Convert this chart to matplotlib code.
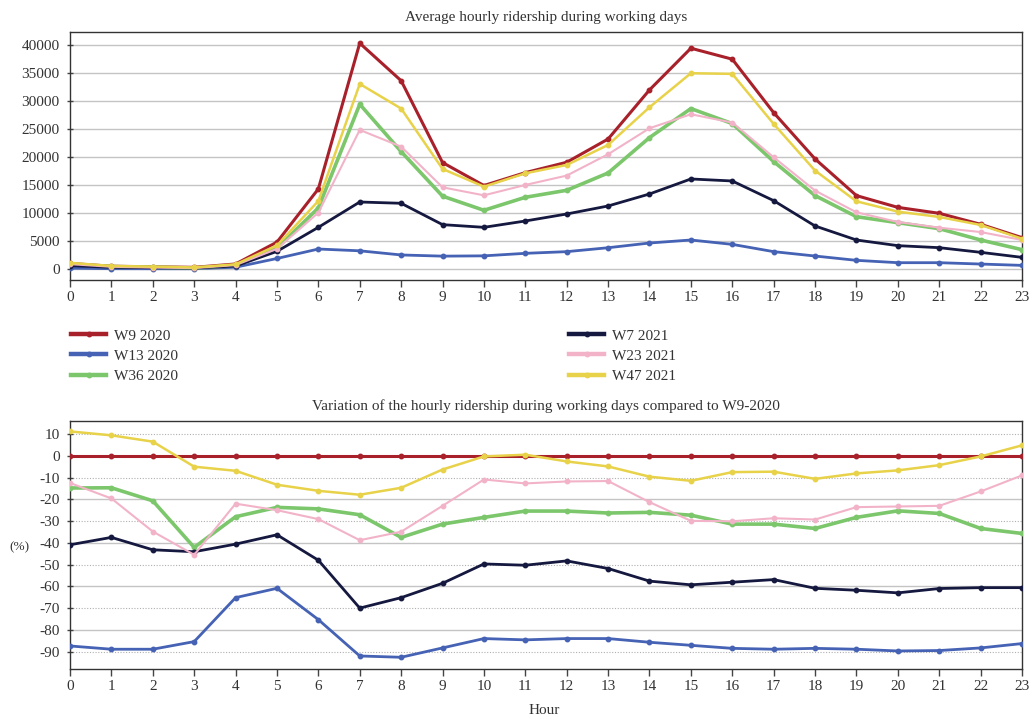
import matplotlib
matplotlib.use("Agg")
import matplotlib.pyplot as plt
from matplotlib.ticker import MultipleLocator, FormatStrFormatter
from matplotlib.lines import Line2D

plt.rcParams['font.family'] = ['Liberation Serif', 'DejaVu Serif']

hours = list(range(24))
series_names = ["W9 2020", "W13 2020", "W36 2020", "W7 2021", "W23 2021", "W47 2021"]

# Average hourly ridership (top chart)
w9_2020 = [1000, 500, 400, 300, 900, 4800, 14300, 40300, 33600, 19000, 14900, 17200,
           19050, 23200, 31960, 39400, 37440, 27900, 19640, 13100, 11000, 9940, 7980, 5600]
w13_2020 = [150, 60, 50, 45, 320, 1880, 3570, 3250, 2510, 2300, 2350, 2800,
            3100, 3800, 4640, 5180, 4400, 3100, 2320, 1550, 1130, 1130, 890, 650]
w36_2020 = [850, 430, 320, 170, 650, 3700, 10900, 29400, 20950, 13000, 10480, 12800,
            14050, 17140, 23450, 28630, 25950, 19170, 13100, 9340, 8270, 7200, 5180, 3450]
w7_2021 = [600, 310, 230, 170, 540, 3150, 7440, 11960, 11730, 7920, 7440, 8570,
           9820, 11250, 13390, 16070, 15710, 12200, 7680, 5180, 4170, 3810, 2980, 2080]
w23_2021 = [870, 400, 260, 165, 700, 3600, 10060, 24820, 21840, 14580, 13150, 15000,
            16670, 20480, 25120, 27620, 26130, 19940, 13990, 10120, 8390, 7380, 6600, 5180]
w47_2021 = [1100, 550, 430, 285, 840, 4200, 12140, 33030, 28630, 17860, 14700, 17080,
            18570, 22140, 28870, 34940, 34820, 25890, 17560, 12080, 10240, 9290, 7860, 5420]

# Variation compared to W9-2020 (%) (bottom chart)
v_w9_2020 = [0] * 24
v_w13_2020 = [-87.4, -88.9, -88.9, -85.4, -65.2, -60.9, -75.3, -92.0, -92.6, -88.3, -84.0, -84.6,
              -84.0, -84.0, -85.7, -87.1, -88.5, -88.9, -88.5, -88.9, -89.7, -89.5, -88.3, -86.3]
v_w36_2020 = [-14.8, -14.7, -20.7, -42.1, -28.0, -23.7, -24.4, -27.1, -37.5, -31.4, -28.3, -25.4,
              -25.4, -26.3, -26.0, -27.3, -31.4, -31.4, -33.4, -28.3, -25.3, -26.5, -33.4, -35.7]
v_w7_2021 = [-40.9, -37.5, -43.2, -44.1, -40.6, -36.3, -48.0, -70.0, -65.2, -58.6, -49.7, -50.3,
             -48.3, -51.8, -57.6, -59.3, -58.1, -56.9, -60.9, -61.8, -63.0, -61.0, -60.6, -60.6]
v_w23_2021 = [-12.5, -19.6, -34.8, -45.5, -22.0, -25.0, -29.1, -38.8, -34.9, -23.0, -10.9, -12.7,
              -11.8, -11.6, -21.3, -29.9, -30.1, -28.7, -29.3, -23.6, -23.3, -23.0, -16.4, -9.0]
v_w47_2021 = [11.2, 9.4, 6.5, -5.0, -6.9, -13.3, -16.1, -17.9, -14.7, -6.3, -0.3, 0.5,
              -2.6, -4.9, -9.6, -11.5, -7.5, -7.3, -10.6, -8.1, -6.7, -4.3, -0.3, 4.8]

top_data = [w9_2020, w13_2020, w36_2020, w7_2021, w23_2021, w47_2021]
bot_data = [v_w9_2020, v_w13_2020, v_w36_2020, v_w7_2021, v_w23_2021, v_w47_2021]

colors = ["#a8202a", "#4562b4", "#7cc66c", "#15183f", "#f2b3c8", "#e8d24a"]
widths = [2.2, 2.0, 2.6, 2.0, 1.5, 1.8]

text_color = "#333333"
grid_color = "#c4c4c4"
fs = 11

fig = plt.figure(figsize=(10.31, 7.2), dpi=100)
ax1 = fig.add_axes([0.0679, 0.6111, 0.9234, 0.3445])
ax2 = fig.add_axes([0.0679, 0.0708, 0.9234, 0.3445])

for d, c, w in zip(top_data, colors, widths):
    ax1.plot(hours, d, color=c, lw=w, marker='o', ms=3.2, zorder=3)
for d, c, w in zip(bot_data, colors, widths):
    ax2.plot(hours, d, color=c, lw=w, marker='o', ms=3.2, zorder=3)

for ax in (ax1, ax2):
    ax.set_xlim(0, 23)
    ax.set_xticks(hours)
    ax.tick_params(axis='x', direction='out', length=5, width=1, colors="#444444",
                   labelcolor=text_color, labelsize=fs, pad=3)
    ax.tick_params(axis='y', which='both', direction='inout', length=5, width=1,
                   colors="#444444", labelcolor=text_color, labelsize=fs, pad=5)
    for s in ax.spines.values():
        s.set_color("#333333")
        s.set_linewidth(1.0)
    ax.set_axisbelow(True)

ax1.set_ylim(-1960, 42300)
ax1.set_yticks(range(0, 40001, 5000))
ax1.yaxis.grid(True, color=grid_color, lw=1.0, ls='-')
ax1.set_title("Average hourly ridership during working days", fontsize=fs,
              color=text_color, pad=8)

ax2.set_ylim(-98, 16)
ax2.yaxis.set_major_locator(MultipleLocator(20))
ax2.yaxis.set_minor_locator(MultipleLocator(10))
ax2.yaxis.set_major_formatter(FormatStrFormatter('%d'))
ax2.yaxis.set_minor_formatter(FormatStrFormatter('%d'))
ax2.yaxis.grid(True, which='major', color=grid_color, lw=1.0, ls='-')
ax2.yaxis.grid(True, which='minor', color="#b0b0b0", lw=0.8, ls=(0, (1, 1.5)))
ax2.set_title("Variation of the hourly ridership during working days compared to W9-2020",
              fontsize=fs, color=text_color, pad=8)

fig.text(19 / 1031, 1 - 547 / 720, "(%)", fontsize=9.5, color=text_color,
         ha='center', va='center')
fig.text(544 / 1031, 1 - 711 / 720, "Hour", fontsize=fs, color=text_color,
         ha='center', va='center')

handles = [Line2D([], [], color=c, lw=3.2, marker='o', ms=3.2) for c in colors]
leg_kw = dict(frameon=False, fontsize=fs, handlelength=2.3, handletextpad=0.5,
              labelspacing=0.42, borderpad=0, borderaxespad=0, loc='upper left',
              labelcolor=text_color)
fig.legend(handles[:3], series_names[:3], bbox_to_anchor=(71 / 1031, 1 - 329 / 720), **leg_kw)
fig.legend(handles[3:], series_names[3:], bbox_to_anchor=(569 / 1031, 1 - 329 / 720), **leg_kw)

fig.savefig("out.png", dpi=100, facecolor='white')
